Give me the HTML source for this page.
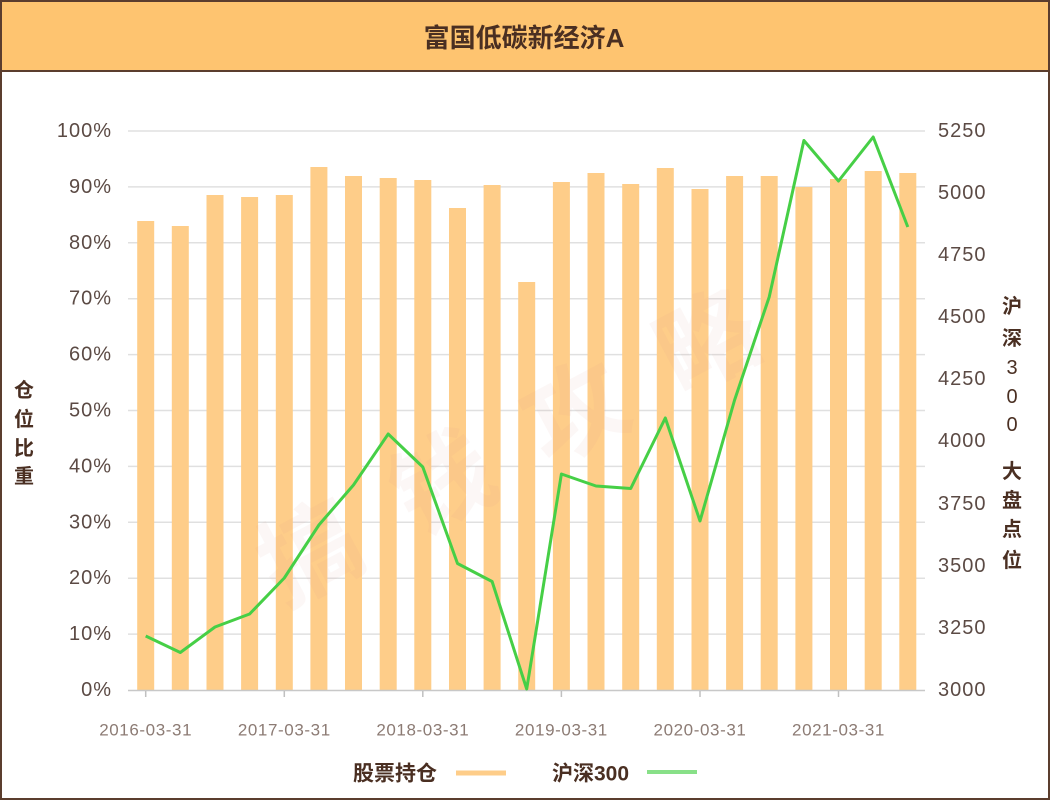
<!DOCTYPE html>
<html><head><meta charset="utf-8"><style>
html,body{margin:0;padding:0;background:#fff;}
body{width:1050px;height:800px;overflow:hidden;}
svg{display:block;font-family:"Liberation Sans","Noto Sans CJK SC",sans-serif;}
</style></head><body>
<svg width="1050" height="800" viewBox="0 0 1050 800" xmlns="http://www.w3.org/2000/svg">
<rect x="0" y="0" width="1050" height="800" fill="#ffffff"/>
<rect x="0" y="0" width="1050" height="71" fill="#fec470"/>
<line x1="0" y1="71" x2="1050" y2="71" stroke="#5b3d2e" stroke-width="2"/>
<rect x="1" y="1" width="1048" height="798" fill="none" stroke="#5b3d2e" stroke-width="2"/>
<text x="524" y="38" text-anchor="middle" dominant-baseline="central" font-size="26" font-weight="bold" fill="#4a2f22">富国低碳新经济A</text>

<!-- grid -->
<g stroke="#e0e0e0" stroke-width="1.5">
<line x1="128" y1="131" x2="925" y2="131"/>
<line x1="128" y1="186.9" x2="925" y2="186.9"/>
<line x1="128" y1="242.8" x2="925" y2="242.8"/>
<line x1="128" y1="298.7" x2="925" y2="298.7"/>
<line x1="128" y1="354.6" x2="925" y2="354.6"/>
<line x1="128" y1="410.5" x2="925" y2="410.5"/>
<line x1="128" y1="466.4" x2="925" y2="466.4"/>
<line x1="128" y1="522.3" x2="925" y2="522.3"/>
<line x1="128" y1="578.2" x2="925" y2="578.2"/>
<line x1="128" y1="634.1" x2="925" y2="634.1"/>
</g>

<!-- bars -->
<g fill="#fecd89">
<rect x="137.2" y="221" width="17" height="469"/>
<rect x="171.8" y="226" width="17" height="464"/>
<rect x="206.5" y="195" width="17" height="495"/>
<rect x="241.1" y="197" width="17" height="493"/>
<rect x="275.8" y="195" width="17" height="495"/>
<rect x="310.4" y="167" width="17" height="523"/>
<rect x="345" y="176" width="17" height="514"/>
<rect x="379.7" y="178" width="17" height="512"/>
<rect x="414.3" y="180" width="17" height="510"/>
<rect x="449" y="208" width="17" height="482"/>
<rect x="483.6" y="185" width="17" height="505"/>
<rect x="518.2" y="282" width="17" height="408"/>
<rect x="552.9" y="182" width="17" height="508"/>
<rect x="587.5" y="173" width="17" height="517"/>
<rect x="622.2" y="184" width="17" height="506"/>
<rect x="656.8" y="168" width="17" height="522"/>
<rect x="691.5" y="189" width="17" height="501"/>
<rect x="726.1" y="176" width="17" height="514"/>
<rect x="760.7" y="176" width="17" height="514"/>
<rect x="795.4" y="187" width="17" height="503"/>
<rect x="830" y="179" width="17" height="511"/>
<rect x="864.7" y="171" width="17" height="519"/>
<rect x="899.3" y="173" width="17" height="517"/>
</g>

<!-- watermark -->
<text x="532" y="437" text-anchor="middle" dominant-baseline="central" font-size="100" font-weight="bold" fill="rgba(215,150,140,0.08)" letter-spacing="50" transform="rotate(-28 532 437)">搞钱攻略</text>

<!-- x axis -->
<line x1="128" y1="690.5" x2="925" y2="690.5" stroke="#c8c8c8" stroke-width="1.5"/>
<g stroke="#c0c0c0" stroke-width="1.5">
<line x1="145.7" y1="691" x2="145.7" y2="697"/>
<line x1="284.3" y1="691" x2="284.3" y2="697"/>
<line x1="422.8" y1="691" x2="422.8" y2="697"/>
<line x1="561.4" y1="691" x2="561.4" y2="697"/>
<line x1="700" y1="691" x2="700" y2="697"/>
<line x1="838.5" y1="691" x2="838.5" y2="697"/>
</g>

<!-- line -->
<polyline fill="none" stroke="#46cf46" stroke-width="3" stroke-linejoin="round" points="145.7,636 180.3,652.5 215,627 249.6,614 284.3,578 318.9,525 353.5,485 388.2,434 422.8,467 457.5,563.5 492.1,581.5 526.7,689 561.4,474 596,486 630.7,488.5 665.3,418 700,521 734.6,400 769.2,297 803.9,140.5 838.5,181 873.2,137 907.8,227"/>

<!-- left labels -->
<g font-size="20" fill="#5b4a44" text-anchor="end" dominant-baseline="central" letter-spacing="1">
<text x="112" y="131">100%</text>
<text x="112" y="186.9">90%</text>
<text x="112" y="242.8">80%</text>
<text x="112" y="298.7">70%</text>
<text x="112" y="354.6">60%</text>
<text x="112" y="410.5">50%</text>
<text x="112" y="466.4">40%</text>
<text x="112" y="522.3">30%</text>
<text x="112" y="578.2">20%</text>
<text x="112" y="634.1">10%</text>
<text x="112" y="690">0%</text>
</g>
<!-- right labels -->
<g font-size="20" fill="#5b4a44" text-anchor="start" dominant-baseline="central" letter-spacing="1">
<text x="938" y="131">5250</text>
<text x="938" y="193">5000</text>
<text x="938" y="255">4750</text>
<text x="938" y="317">4500</text>
<text x="938" y="379">4250</text>
<text x="938" y="441">4000</text>
<text x="938" y="504">3750</text>
<text x="938" y="566">3500</text>
<text x="938" y="628">3250</text>
<text x="938" y="690">3000</text>
</g>
<!-- x labels -->
<g font-size="17" fill="#8c7b74" text-anchor="middle" dominant-baseline="central" letter-spacing="0.6">
<text x="145.7" y="730">2016-03-31</text>
<text x="284.3" y="730">2017-03-31</text>
<text x="422.8" y="730">2018-03-31</text>
<text x="561.4" y="730">2019-03-31</text>
<text x="700" y="730">2020-03-31</text>
<text x="838.5" y="730">2021-03-31</text>
</g>

<!-- left axis title -->
<g font-size="20" font-weight="bold" fill="#4a2f22" text-anchor="middle" dominant-baseline="central">
<text x="24" y="391">仓</text>
<text x="24" y="420">位</text>
<text x="24" y="449">比</text>
<text x="24" y="477">重</text>
</g>
<!-- right axis title -->
<g font-size="20" font-weight="bold" fill="#4a2f22" text-anchor="middle" dominant-baseline="central">
<text x="1012" y="307">沪</text>
<text x="1012" y="339">深</text>
<text x="1012" y="368" font-weight="normal">3</text>
<text x="1012" y="397" font-weight="normal">0</text>
<text x="1012" y="425" font-weight="normal">0</text>
<text x="1012" y="472">大</text>
<text x="1012" y="501">盘</text>
<text x="1012" y="530">点</text>
<text x="1012" y="561">位</text>
</g>

<!-- legend -->
<text x="353" y="774" font-size="21" font-weight="bold" fill="#4a2f22" dominant-baseline="central">股票持仓</text>
<line x1="456" y1="773" x2="506" y2="773" stroke="#fecd89" stroke-width="5"/>
<text x="552" y="774" font-size="21" font-weight="bold" fill="#4a2f22" dominant-baseline="central">沪深300</text>
<line x1="647" y1="772" x2="697" y2="772" stroke="#88e088" stroke-width="4"/>
</svg>
</body></html>
